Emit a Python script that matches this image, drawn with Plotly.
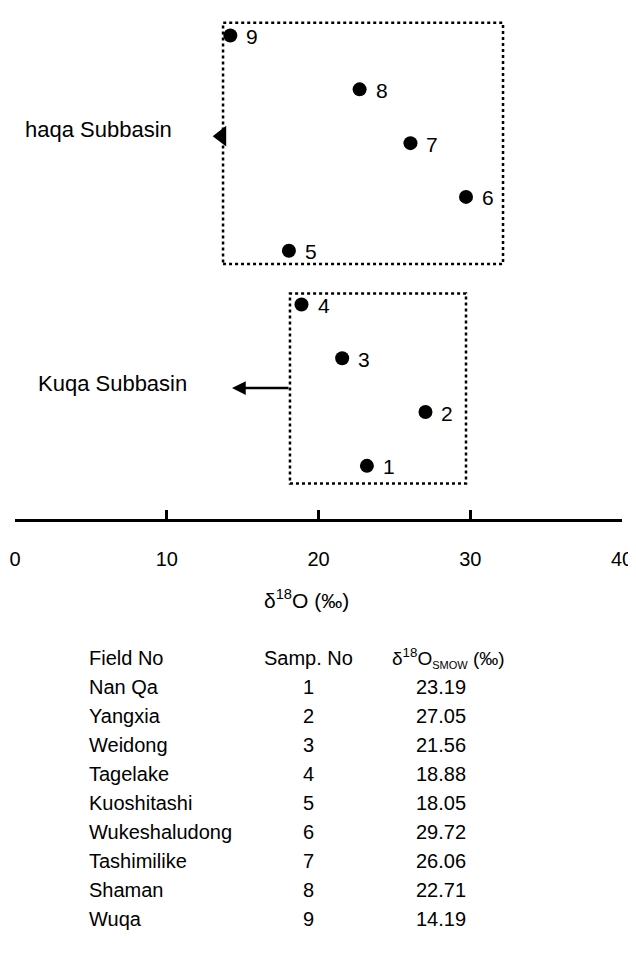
import plotly.graph_objects as go

# ---- data ----
field_names = ["Nan Qa", "Yangxia", "Weidong", "Tagelake", "Kuoshitashi",
               "Wukeshaludong", "Tashimilike", "Shaman", "Wuqa"]
sample_nos = [1, 2, 3, 4, 5, 6, 7, 8, 9]
d18o = [23.19, 27.05, 21.56, 18.88, 18.05, 29.72, 26.06, 22.71, 14.19]
x_ticks = [0, 10, 20, 30, 40]
group_labels = ["haqa Subbasin", "Kuqa Subbasin"]

# ---- layout helpers (pixels in the final page) ----
OFF = 8                      # default body margin of the page
W, H = 636 - OFF, 955 - 2 * OFF - 4
PLOT_LEFT, PLOT_RIGHT, PLOT_BOTTOM = 15, 622, 519   # page pixels
ML = PLOT_LEFT - OFF
MR = W - (PLOT_RIGHT - OFF)
MT = 0
PW = PLOT_RIGHT - PLOT_LEFT
PH = PLOT_BOTTOM - OFF - MT
FONT = "Liberation Sans, Arial, Helvetica, sans-serif"


def px(p):
    return (p - PLOT_LEFT) / PW


def py(p):
    return (PLOT_BOTTOM - p) / PH


fig = go.Figure()

# boxes (layout decoration)
upper_box = dict(x0=13.71, x1=32.16, y0=4.753, y1=9.238)
lower_box = dict(x0=18.12, x1=29.72, y0=0.670, y1=4.204)
for b in (upper_box, lower_box):
    fig.add_shape(type="rect", xref="x", yref="y", **b,
                  line=dict(color="black", width=2.5, dash="dot"),
                  fillcolor="rgba(0,0,0,0)", layer="below")

fig.add_trace(go.Scatter(
    x=d18o, y=sample_nos, mode="markers",
    marker=dict(color="black", size=14),
    showlegend=False, hoverinfo="skip"))

for v, s in zip(d18o, sample_nos):
    fig.add_annotation(x=v, y=s, xref="x", yref="y", text=str(s),
                       showarrow=False, xanchor="left", xshift=14, yshift=-1,
                       font=dict(size=21, color="black", family=FONT))

# triangle pointer at upper box
fig.add_trace(go.Scatter(
    x=[13.62], y=[7.13], mode="markers",
    marker=dict(symbol="triangle-left", color="black", size=18),
    showlegend=False, hoverinfo="skip"))

# arrow from lower box
fig.add_annotation(x=14.30, y=2.446, ax=lower_box["x0"], ay=2.446,
                   xref="x", yref="y", axref="x", ayref="y",
                   text="", showarrow=True, arrowhead=2, arrowsize=1.1,
                   arrowwidth=2.5, arrowcolor="black")

fig.add_annotation(x=px(23), y=py(129), xref="paper", yref="paper",
                   text=group_labels[0], showarrow=False, xanchor="left",
                   yanchor="middle",
                   font=dict(size=22, color="black", family=FONT))
fig.add_annotation(x=px(36), y=py(383), xref="paper", yref="paper",
                   text=group_labels[1], showarrow=False, xanchor="left",
                   yanchor="middle",
                   font=dict(size=22, color="black", family=FONT))

# axis title
fig.add_annotation(x=px(306), y=py(599), xref="paper", yref="paper",
                   text="δ<sup>18</sup>O (‰)", showarrow=False,
                   xanchor="center", yanchor="middle",
                   font=dict(size=21, color="black", family=FONT))

# table
row0 = 658
row_step = 29.0
TF = dict(size=20, color="black", family=FONT)
fig.add_annotation(x=px(87), y=py(row0), xref="paper", yref="paper",
                   text="Field No", showarrow=False, xanchor="left",
                   yanchor="middle", font=TF)
fig.add_annotation(x=px(308), y=py(row0), xref="paper", yref="paper",
                   text="Samp. No", showarrow=False, xanchor="center",
                   yanchor="middle", font=TF)
fig.add_annotation(x=px(448), y=py(row0), xref="paper", yref="paper",
                   text="δ<sup>18</sup>O<sub><span style='font-size:11px'>SMOW</span></sub> (‰)",
                   showarrow=False, xanchor="center",
                   yanchor="middle", font=dict(size=19, color="black", family=FONT))
for i, (name, s, v) in enumerate(zip(field_names, sample_nos, d18o)):
    yy = py(row0 + row_step * (i + 1))
    fig.add_annotation(x=px(87), y=yy, xref="paper", yref="paper",
                       text=name, showarrow=False, xanchor="left",
                       yanchor="middle", font=TF)
    fig.add_annotation(x=px(308), y=yy, xref="paper", yref="paper",
                       text=str(s), showarrow=False, xanchor="center",
                       yanchor="middle", font=TF)
    fig.add_annotation(x=px(441), y=yy, xref="paper", yref="paper",
                       text=f"{v:.2f}", showarrow=False, xanchor="center",
                       yanchor="middle", font=TF)

fig.update_layout(
    width=W, height=H,
    margin=dict(l=ML, r=MR, t=MT, b=H - (PLOT_BOTTOM - OFF), pad=0),
    paper_bgcolor="white", plot_bgcolor="white",
    font=dict(family=FONT, color="black"),
    xaxis=dict(range=[0, 40], tickvals=x_ticks, showgrid=False,
               zeroline=False, showline=True, linecolor="black",
               linewidth=2.5, ticks="inside", ticklen=9, tickwidth=2.5,
               tickcolor="black", tickfont=dict(size=20, color="black",
                                                family=FONT),
               ticklabelstandoff=20, fixedrange=True),
    yaxis=dict(range=[0.0114, 9.5126], visible=False, fixedrange=True),
    showlegend=False,
)

fig.write_html("out.html")
